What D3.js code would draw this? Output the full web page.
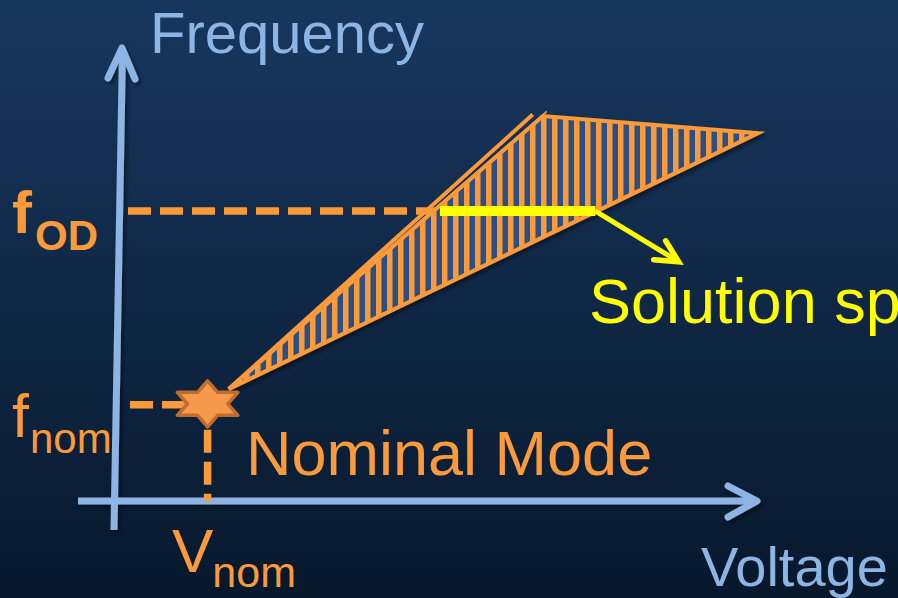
<!DOCTYPE html>
<html>
<head>
<meta charset="utf-8">
<script src="https://cdn.jsdelivr.net/npm/d3@7/dist/d3.min.js"></script>
<style>
  html, body { margin: 0; padding: 0; background: #0b1d33; overflow: hidden; }
  svg { display: block; }
  text { font-family: "Liberation Sans", Arial, sans-serif; }
</style>
</head>
<body>
<svg id="chart" width="898" height="598"></svg>
<script>
// Operating point and overdrive frequency (abstract voltage / frequency units, 0–100)
const nominal = { v: 14, f: 21 };
const overdriveF = 64;

// Corners of the reachable operating region (voltage, frequency)
const regionCorners = [
  { v: 17.3, f: 24.7 },
  { v: 66.4, f: 85.0 },
  { v: 100.0, f: 81.2 }
];
// Left edge of the region, drawn twice (slightly offset strokes)
const regionEdgeExtra = [
  { v: 17.3, f: 24.7 },
  { v: 64.8, f: 85.3 }
];
const regionEdgeThin = [
  { v: 17.3, f: 24.7 },
  { v: 67.0, f: 86.0 }
];

// Voltage range where the overdrive frequency can be sustained
const solutionSpan = [50.3, 74.6];
// Pointer from the solution span to its label
const pointer = [{ v: 74.6, f: 64 }, { v: 87.6, f: 52.8 }];

// Axis and annotation labels
const axisLabels = { x: "Voltage", y: "Frequency" };
const noteLabels = { nominal: "Nominal Mode", solution: "Solution space" };

const W = 898, H = 598;
const svg = d3.select("#chart");

const x = d3.scaleLinear().domain([0, 100]).range([118, 758]);
const y = d3.scaleLinear().domain([0, 100]).range([501, 48]);

const blue = "#8db4e2", orange = "#fa9a3a", yellow = "#ffff00";

const defs = svg.append("defs");
const bg = defs.append("linearGradient").attr("id", "bg")
  .attr("x1", 0).attr("y1", 0).attr("x2", 0).attr("y2", 1);
bg.append("stop").attr("offset", "0%").attr("stop-color", "#18375f");
bg.append("stop").attr("offset", "100%").attr("stop-color", "#07182c");

const shadow = defs.append("filter").attr("id", "shadow")
  .attr("x", "-10%").attr("y", "-10%").attr("width", "130%").attr("height", "130%");
shadow.append("feDropShadow").attr("dx", 2).attr("dy", 2.5)
  .attr("stdDeviation", 2).attr("flood-color", "#000").attr("flood-opacity", 0.5);

// Vertical hatch for the operating region
const hatch = defs.append("pattern").attr("id", "hatch")
  .attr("patternUnits", "userSpaceOnUse").attr("width", 11).attr("height", 20)
  .attr("x", 2);
hatch.append("rect").attr("width", 11).attr("height", 20).attr("fill", "#2c5084");
hatch.append("rect").attr("width", 5.5).attr("height", 20).attr("fill", orange);

svg.append("rect").attr("width", W).attr("height", H).attr("fill", "url(#bg)");

// Axes with open arrowheads
const axes = svg.append("g").attr("filter", "url(#shadow)")
  .attr("stroke", blue).attr("stroke-width", 7).attr("fill", "none")
  .attr("stroke-linecap", "round").attr("stroke-linejoin", "round");
const [x0, x1] = x.range();
const [yb, yt] = y.range();
axes.append("line")
  .attr("x1", x0 - 4).attr("y1", yb + 29).attr("x2", x0 + 4.5).attr("y2", yt + 2)
  .attr("stroke-linecap", "butt");
axes.append("path")
  .attr("d", `M${x0 - 10},${yt + 30} L${x0 + 4},${yt} L${x0 + 17},${yt + 31}`);
axes.append("line")
  .attr("x1", x0 - 40).attr("y1", yb).attr("x2", x1 - 2).attr("y2", yb)
  .attr("stroke-linecap", "butt");
axes.append("path")
  .attr("d", `M${x1 - 30},${yb - 15} L${x1 - 1},${yb} L${x1 - 30},${yb + 16}`);

// Dashed guide lines
const dash = svg.append("g").attr("stroke", orange).attr("stroke-width", 7.5)
  .attr("stroke-dasharray", "23 9").attr("fill", "none");
dash.append("line")
  .attr("x1", x(0) + 10).attr("x2", x(49.5))
  .attr("y1", y(overdriveF)).attr("y2", y(overdriveF));
dash.append("line")
  .attr("x1", x(0) + 12).attr("x2", x(nominal.v) - 20)
  .attr("y1", y(nominal.f) - 1).attr("y2", y(nominal.f) - 1);
dash.append("line")
  .attr("x1", x(nominal.v)).attr("x2", x(nominal.v))
  .attr("y1", y(nominal.f) + 24).attr("y2", yb);

// Hatched operating region
const line = d3.line().x(d => x(d.v)).y(d => y(d.f));
svg.append("path")
  .attr("d", line(regionCorners) + "Z")
  .attr("fill", "url(#hatch)")
  .attr("stroke", orange).attr("stroke-width", 4).attr("stroke-linejoin", "miter")
  .attr("filter", "url(#shadow)");
svg.append("path").attr("d", line(regionEdgeExtra))
  .attr("stroke", orange).attr("stroke-width", 4).attr("fill", "none");
svg.append("path").attr("d", line(regionEdgeThin))
  .attr("stroke", orange).attr("stroke-width", 1.6).attr("fill", "none");

// Solution span and pointer
svg.append("line")
  .attr("x1", x(solutionSpan[0])).attr("x2", x(solutionSpan[1]))
  .attr("y1", y(overdriveF)).attr("y2", y(overdriveF))
  .attr("stroke", yellow).attr("stroke-width", 10);
const [p0, p1] = pointer.map(d => [x(d.v), y(d.f)]);
svg.append("line")
  .attr("x1", p0[0]).attr("y1", p0[1]).attr("x2", p1[0] - 3).attr("y2", p1[1] - 2)
  .attr("stroke", yellow).attr("stroke-width", 5);
svg.append("path")
  .attr("d", `M${p1[0] - 13},${p1[1] - 21} L${p1[0]},${p1[1]} L${p1[0] - 25},${p1[1] - 2}`)
  .attr("stroke", yellow).attr("stroke-width", 5.5).attr("fill", "none")
  .attr("stroke-linecap", "round").attr("stroke-linejoin", "miter");

// Six-pointed star at the nominal operating point
const cx = x(nominal.v), cy = y(nominal.f) - 2;
const starPts = d3.range(12).map(i => {
  const a = Math.PI / 2 - i * Math.PI / 6;
  const r = i % 2 === 0 ? 1 : 1 / Math.sqrt(3);
  return [cx + 35 * r * Math.cos(a), cy - 23 * r * Math.sin(a)];
});
svg.append("path")
  .attr("d", d3.line()(starPts) + "Z")
  .attr("fill", "#f6994c").attr("stroke", "#bf6c2c").attr("stroke-width", 3.5)
  .attr("stroke-linejoin", "round");

// Labels
svg.append("text").attr("x", 150).attr("y", 53)
  .attr("font-size", 58).attr("fill", blue).text(axisLabels.y);
svg.append("text").attr("x", 701).attr("y", 586)
  .attr("font-size", 56).attr("fill", blue).text(axisLabels.x);

svg.append("text").attr("x", 246).attr("y", 475)
  .attr("font-size", 63).attr("fill", orange).text(noteLabels.nominal);
svg.append("text").attr("x", 589).attr("y", 323)
  .attr("font-size", 63).attr("fill", yellow).text(noteLabels.solution);

const fod = svg.append("text").attr("x", 12).attr("y", 233)
  .attr("fill", orange).attr("font-weight", "bold");
fod.append("tspan").attr("font-size", 60).text("f");
fod.append("tspan").attr("font-size", 42).attr("dx", 3).attr("dy", 17).text("OD");

const fnom = svg.append("text").attr("x", 12).attr("y", 437).attr("fill", orange);
fnom.append("tspan").attr("font-size", 61).text("f");
fnom.append("tspan").attr("font-size", 42).attr("dx", 1).attr("dy", 16).text("nom");

const vnom = svg.append("text").attr("x", 172).attr("y", 572).attr("fill", orange);
vnom.append("tspan").attr("font-size", 62).text("V");
vnom.append("tspan").attr("font-size", 43).attr("dx", -1).attr("dy", 15).text("nom");
</script>
</body>
</html>
